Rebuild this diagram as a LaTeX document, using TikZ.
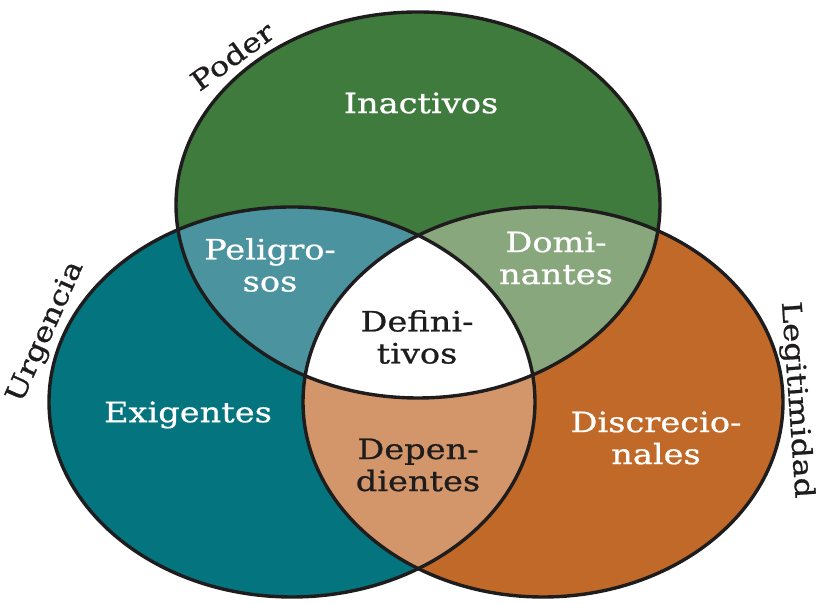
\documentclass[tikz,border=0pt]{standalone}
\usepackage{fontspec}
\setmainfont{DejaVu Serif}[FakeStretch=1.2, FakeBold=0.8]
\usetikzlibrary{positioning}

\definecolor{poder}{RGB}{64,123,62}
\definecolor{urgencia}{RGB}{4,116,126}
\definecolor{legitim}{RGB}{193,105,40}
\definecolor{peligro}{RGB}{76,147,160}
\definecolor{domina}{RGB}{137,167,125}
\definecolor{depende}{RGB}{211,150,106}
\definecolor{ink}{RGB}{30,28,28}

\tikzset{
  elP/.style={x radius=242, y radius=193},
  elU/.style={x radius=243, y radius=195},
  elL/.style={x radius=240, y radius=195},
  rim/.style={draw=ink, line width=3.4pt},
  zone/.style={font=\fontsize{28}{32}\selectfont, align=center, text=white, inner sep=0pt},
  zonedark/.style={zone, text=ink},
  setlabel/.style={font=\fontsize{27}{32}\selectfont, text=ink, inner sep=0pt}
}

\begin{document}
\begin{tikzpicture}[x=1pt, y=1pt]
    \useasboundingbox (0,0) rectangle (823,604);
    \coordinate (P) at (418,399);
    \coordinate (U) at (292,202);
    \coordinate (L) at (543,202);
    % the three sets
    \fill[poder] (P) ellipse [elP];
    \fill[urgencia] (U) ellipse [elU];
    \fill[legitim] (L) ellipse [elL];
    \begin{scope}
        \clip (P) ellipse [elP];
        \fill[peligro] (U) ellipse [elU];
        \fill[domina] (L) ellipse [elL];
    \end{scope}
    \begin{scope}
        \clip (U) ellipse [elU];
        \fill[depende] (L) ellipse [elL];
        \clip (P) ellipse [elP];
        \fill[white] (L) ellipse [elL];
    \end{scope}
    \draw[rim] (P) ellipse [elP];
    \draw[rim] (U) ellipse [elU];
    \draw[rim] (L) ellipse [elL];
    % regions
    \node[zone] (inactivos) at (421,501) {Inactivos};
    \node[zone] (peligrosos) at (270,339) {Peligro-\\sos};
    \node[zone] (dominantes) at (556,346) {Domi-\\nantes};
    \node[zonedark] (definitivos) at (417,267) {Defini-\\tivos};
    \node[zone] (exigentes) at (188,189) {Exigentes};
    \node[zonedark] (dependientes) at (418,139) {Depen-\\dientes};
    \node[zone] (discrecionales) at (656,166) {Discrecio-\\nales};
    % set names
    \node[setlabel, rotate=36] (poderlbl) at (232,548) {Poder};
    \node[setlabel, rotate=66] (urgencialbl) at (46,272) {Urgencia};
    \node[setlabel, rotate=-86] (legitimlbl) at (796,204) {Legitimidad};
\end{tikzpicture}
\end{document}
